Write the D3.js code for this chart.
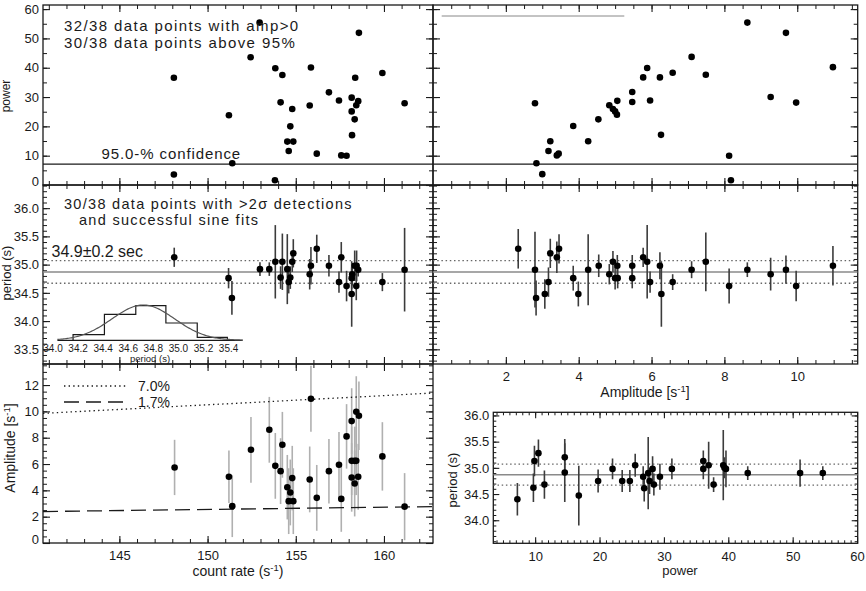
<!DOCTYPE html>
<html>
<head>
<meta charset="utf-8">
<script src="https://cdn.jsdelivr.net/npm/d3@7"></script>
<style>
  body { margin: 0; background: #fff; }
  text { font-family: "Liberation Sans", Arial, sans-serif; fill: #1a1a1a; }
</style>
</head>
<body>
<div id="chart"></div>
<script>
// ---- top-left: power vs count rate
const tlRate = [148.09, 148.09, 151.21, 151.40, 152.44, 152.95, 153.84, 153.82, 154.14, 154.24, 154.52, 154.60, 154.69, 154.80, 154.86, 155.79, 155.86, 156.19, 156.88, 157.45, 157.58, 157.88, 158.17, 158.17, 158.19, 158.34, 158.37, 158.43, 158.54, 158.58, 159.91, 161.17];
const tlPower = [36.6, 3.6, 23.8, 7.4, 43.6, 55.4, 39.8, 1.6, 28.2, 37.5, 14.8, 11.6, 20.0, 25.9, 14.8, 27.1, 40.1, 10.7, 31.6, 28.8, 10.1, 10.0, 29.8, 25.1, 17.0, 22.4, 36.6, 27.2, 28.6, 51.9, 38.2, 27.9];

// ---- top-right: power vs amplitude
const trAmp = [2.80, 2.84, 3.00, 3.17, 3.22, 3.40, 3.45, 3.85, 4.26, 4.54, 4.84, 4.94, 5.00, 5.05, 5.06, 5.47, 5.47, 5.77, 5.88, 5.96, 6.23, 6.26, 6.58, 7.10, 7.49, 8.13, 8.18, 8.63, 9.27, 9.69, 9.97, 10.98];
const trPower = [27.9, 7.4, 3.7, 11.6, 14.9, 10.1, 10.7, 20.1, 14.9, 22.4, 27.2, 25.9, 25.1, 24.0, 28.7, 31.7, 28.3, 36.7, 39.9, 28.8, 36.7, 17.1, 38.3, 43.7, 37.6, 10.0, 1.6, 55.4, 30.0, 51.9, 28.1, 40.2];
const confLevel = 7.1;

// ---- middle-left: period vs count rate
const mlRate = [148.11, 151.19, 151.38, 152.97, 153.50, 153.84, 154.14, 154.24, 154.52, 154.60, 154.69, 154.80, 154.86, 155.79, 155.86, 156.19, 156.88, 157.45, 157.58, 157.88, 158.17, 158.17, 158.20, 158.34, 158.43, 158.45, 158.54, 159.91, 161.17];
const mlPeriod = [35.13, 34.76, 34.41, 34.92, 34.92, 35.05, 34.77, 35.05, 34.92, 34.69, 34.77, 35.05, 35.20, 34.83, 34.98, 35.28, 34.98, 34.69, 35.13, 34.62, 34.76, 34.48, 34.83, 34.98, 34.62, 34.98, 34.91, 34.69, 34.91];
const mlErr = [0.17, 0.18, 0.30, 0.12, 0.12, 0.65, 0.20, 0.50, 0.62, 0.20, 0.20, 0.18, 0.25, 0.27, 0.33, 0.25, 0.19, 0.19, 0.27, 0.27, 0.19, 0.58, 0.20, 0.27, 0.25, 0.27, 0.12, 0.16, 0.74];

// ---- middle-right: period vs amplitude
const mrAmp = [2.34, 2.80, 2.83, 3.07, 3.17, 3.22, 3.40, 3.46, 3.85, 3.99, 4.26, 4.55, 4.84, 4.94, 5.00, 5.06, 5.07, 5.47, 5.47, 5.77, 5.88, 5.96, 6.23, 6.27, 6.58, 7.10, 7.49, 8.13, 8.63, 9.27, 9.69, 9.97, 10.98];
const mrPeriod = [35.28, 34.91, 34.41, 34.48, 34.69, 35.20, 35.13, 35.28, 34.76, 34.48, 34.91, 34.98, 34.83, 35.05, 34.76, 34.98, 34.76, 34.98, 34.76, 35.13, 35.05, 34.69, 34.98, 34.48, 34.69, 34.91, 35.05, 34.62, 34.91, 34.83, 34.91, 34.62, 34.98];
const mrErr = [0.35, 0.67, 0.31, 0.26, 0.26, 0.26, 0.28, 0.26, 0.22, 0.22, 0.63, 0.20, 0.18, 0.19, 0.20, 0.19, 0.18, 0.19, 0.18, 0.17, 0.65, 0.19, 0.24, 0.58, 0.14, 0.15, 0.52, 0.31, 0.13, 0.29, 0.25, 0.27, 0.35];

// mean period and 1-sigma band
const perMean = 34.87, perSig = 0.2;

// ---- inset histogram of periods
const histEdges = [34.16, 34.41, 34.66, 34.90, 35.15, 35.39];
const histCounts = [2, 9, 12, 6, 1];
const gaussPeak = 12.25, gaussMean = 34.72, gaussSigma = 0.25;
const histTicks = [34.0, 34.2, 34.4, 34.6, 34.8, 35.0, 35.2, 35.4];

// ---- bottom-left: amplitude vs count rate
const blRate = [148.13, 151.21, 151.40, 152.46, 153.50, 153.84, 154.14, 154.24, 154.52, 154.60, 154.69, 154.80, 154.86, 155.79, 155.86, 156.19, 156.88, 157.45, 157.58, 157.88, 158.17, 158.17, 158.17, 158.34, 158.34, 158.43, 158.43, 158.54, 158.58, 159.91, 161.17];
const blAmp = [5.74, 5.03, 2.80, 7.08, 8.60, 5.86, 5.46, 7.46, 4.24, 3.18, 3.84, 4.93, 3.18, 4.83, 10.96, 3.43, 5.46, 5.94, 3.35, 8.10, 9.26, 6.24, 4.98, 6.24, 4.52, 6.24, 9.97, 5.03, 9.67, 6.58, 2.76];
const blErr = [2.1, 2.0, 2.35, 2.5, 2.5, 2.5, 2.5, 2.5, 2.45, 2.5, 2.5, 2.45, 2.5, 2.5, 2.5, 2.5, 2.45, 2.5, 2.5, 2.45, 2.5, 2.6, 2.6, 2.6, 2.5, 2.6, 2.7, 2.5, 2.6, 2.6, 2.55];
const fracLevels = [0.07, 0.017];
const fracLabels = ["7.0%", "1.7%"];

// ---- bottom-right: period vs power
const brPower = [7.24, 9.73, 9.89, 10.51, 11.44, 14.60, 14.60, 16.78, 19.78, 22.02, 23.52, 24.71, 25.54, 26.78, 26.94, 27.56, 27.77, 28.24, 28.44, 29.38, 31.24, 36.12, 36.12, 36.95, 37.72, 39.22, 39.40, 39.64, 43.02, 51.15, 54.68];
const brPeriod = [34.40, 34.62, 35.13, 35.28, 34.68, 35.20, 34.91, 34.47, 34.75, 34.98, 34.75, 34.75, 35.05, 34.83, 34.61, 34.90, 34.75, 34.98, 34.68, 34.83, 34.98, 35.13, 34.98, 35.05, 34.68, 35.05, 35.00, 34.98, 34.90, 34.90, 34.90];
const brErr = [0.31, 0.27, 0.29, 0.26, 0.27, 0.35, 0.56, 0.57, 0.22, 0.20, 0.21, 0.21, 0.22, 0.20, 0.25, 0.69, 0.25, 0.24, 0.21, 0.25, 0.20, 0.20, 0.20, 0.45, 0.14, 0.67, 0.20, 0.35, 0.13, 0.26, 0.13];

// tick labels
const rateTicks = [145, 150, 155, 160];
const powTicks = [0, 10, 20, 30, 40, 50, 60];
const ampTicks = [2, 4, 6, 8, 10];
const perTicks = [33.5, 34.0, 34.5, 35.0, 35.5, 36.0];
const ampYTicks = [0, 2, 4, 6, 8, 10, 12];
const brPowTicks = [10, 20, 30, 40, 50, 60];
const brPerTicks = [34.0, 34.5, 35.0, 35.5, 36.0];

const FONT = '"Liberation Sans", Arial, sans-serif';
const INK = "#1a1a1a";

const svg = d3.select("#chart").append("svg")
    .attr("width", 866)
    .attr("height", 591);
const defs = svg.append("defs");

// scales
const xRate = d3.scaleLinear().domain([140.67, 162.78]).range([43, 433]);
const yPow = d3.scaleLinear().domain([0, 61.4]).range([185, 5]);
const xAmp = d3.scaleLinear().domain([0, 11.66]).range([433, 857.7]);
const yPer = d3.scaleLinear().domain([33.24, 36.41]).range([364, 185]);
const yAmp = d3.scaleLinear().domain([0, 13.6]).range([543, 364]);
const xPow = d3.scaleLinear().domain([3.5, 60.1]).range([493.3, 857.7]);
const yPer2 = d3.scaleLinear().domain([33.56, 36.06]).range([543.3, 412.3]);

function inDomain(s, vals) {
    const [a, b] = d3.extent(s.domain());
    return vals.filter(v => v > a + 1e-6 && v < b - 1e-6);
}

// IDL-like panel: inward ticks on all four sides, labels only where asked
function panel(name, x, y, o) {
    const [xa, xb] = x.range(), [ya, yb] = y.range();
    defs.append("clipPath").attr("id", "clip-" + name)
        .append("rect").attr("x", xa).attr("y", yb).attr("width", xb - xa).attr("height", ya - yb);

    const g = svg.append("g");
    const sides = [
        {ax: d3.axisBottom(x), t: `translate(0,${ya})`, maj: o.xt, min: o.xm, lab: o.xLab, fmt: o.xf, pad: o.xPad},
        {ax: d3.axisTop(x), t: `translate(0,${yb})`, maj: o.xt, min: o.xm},
        {ax: d3.axisLeft(y), t: `translate(${xa},0)`, maj: o.yt, min: o.ym, lab: o.yLab, fmt: o.yf, pad: 4},
        {ax: d3.axisRight(y), t: `translate(${xb},0)`, maj: o.yt, min: o.ym}
    ];
    sides.forEach(s => {
        g.append("g").attr("transform", s.t)
            .call(s.ax.tickValues(inDomain(s.ax.scale(), s.min)).tickSize(-o.minor).tickSizeOuter(0).tickFormat(""))
            .call(a => a.select(".domain").remove())
            .selectAll("line").attr("stroke", INK).attr("stroke-width", 1);
        const ga = g.append("g").attr("transform", s.t)
            .call(s.ax.tickValues(s.maj).tickSize(-o.major).tickPadding(s.pad || 3).tickFormat(s.lab ? s.fmt : ""))
            .call(a => a.select(".domain").remove())
            .attr("font-size", 13).attr("font-family", FONT);
        ga.selectAll("line").attr("stroke", INK).attr("stroke-width", 1.1);
        ga.selectAll("text").attr("fill", INK);
        // IDL nudges the lowest label (0) up a little
        ga.selectAll(".tick text").filter(d => d === 0 && s.lab && s.pad === 4).attr("dy", "0.02em");
    });
    g.append("rect")
        .attr("x", xa).attr("y", yb).attr("width", xb - xa).attr("height", ya - yb)
        .attr("fill", "none").attr("stroke", INK).attr("stroke-width", 1.3);

    return svg.append("g").attr("clip-path", `url(#clip-${name})`);
}

function dots(g, xs, ys, x, y) {
    g.selectAll(null).data(xs).join("circle")
        .attr("cx", d => x(d))
        .attr("cy", (d, i) => y(ys[i]))
        .attr("r", 3.3)
        .attr("fill", "#000");
}

function errBars(g, xs, ys, es, x, y, color) {
    g.selectAll(null).data(xs).join("line")
        .attr("x1", d => x(d)).attr("x2", d => x(d))
        .attr("y1", (d, i) => y(ys[i] - es[i]))
        .attr("y2", (d, i) => y(ys[i] + es[i]))
        .attr("stroke", color)
        .attr("stroke-width", 1.6);
}

function hLine(g, x, y, v, color, dash, w) {
    g.append("line")
        .attr("x1", x.range()[0]).attr("x2", x.range()[1])
        .attr("y1", y(v)).attr("y2", y(v))
        .attr("stroke", color)
        .attr("stroke-width", w || 1.3)
        .attr("stroke-dasharray", dash || null);
}

function label(txt, x, y, size, opts) {
    const t = svg.append("text")
        .attr("x", x).attr("y", y)
        .attr("font-size", size)
        .text(txt);
    if (opts && opts.spacing) t.attr("letter-spacing", opts.spacing);
    if (opts && opts.anchor) t.attr("text-anchor", opts.anchor);
    return t;
}

// label with s^-1 superscript
function unitLabel(pre, post, x, y, size, rotate) {
    const t = svg.append("text")
        .attr("font-size", size)
        .attr("text-anchor", "middle");
    if (rotate) t.attr("transform", `translate(${x},${y}) rotate(-90)`);
    else t.attr("x", x).attr("y", y);
    t.append("tspan").text(pre);
    t.append("tspan").attr("dy", -5).attr("font-size", size * 0.68).text("-1");
    t.append("tspan").attr("dy", 5).text(post);
}

function rotLabel(txt, x, y, size) {
    svg.append("text")
        .attr("transform", `translate(${x},${y}) rotate(-90)`)
        .attr("text-anchor", "middle")
        .attr("font-size", size)
        .text(txt);
}

// ================= top-left
const gTL = panel("tl", xRate, yPow, {
    xt: rateTicks, xm: d3.range(141, 163, 1),
    yt: powTicks, ym: d3.range(5, 61, 5), yLab: true, yf: d3.format("d"),
    major: 7, minor: 4
});
hLine(gTL, xRate, yPow, confLevel, INK, null, 1.3);
dots(gTL, tlRate, tlPower, xRate, yPow);
label("32/38 data points with amp>0", 64, 30.5, 15, {spacing: 1.4});
label("30/38 data points above 95%", 64, 47.5, 15, {spacing: 1.4});
label("95.0-% confidence", 101.5, 159.3, 15, {spacing: 0.9});
rotLabel("power", 10, 96, 12);

// ================= top-right
const gTR = panel("tr", xAmp, yPow, {
    xt: ampTicks, xm: d3.range(0.5, 11.6, 0.5),
    yt: powTicks, ym: d3.range(5, 61, 5),
    major: 7, minor: 4
});
gTR.append("line")
    .attr("x1", 441.7).attr("x2", 624.3).attr("y1", 16).attr("y2", 16)
    .attr("stroke", "#888").attr("stroke-width", 1);
hLine(gTR, xAmp, yPow, confLevel, INK, null, 1.3);
dots(gTR, trAmp, trPower, xAmp, yPow);

// ================= middle-left
const gML = panel("ml", xRate, yPer, {
    xt: rateTicks, xm: d3.range(141, 163, 1),
    yt: perTicks, ym: d3.range(33.3, 36.41, 0.1), yLab: true, yf: d3.format(".1f"),
    major: 7, minor: 4
});
hLine(gML, xRate, yPer, perMean, "#8a8a8a", null, 1.5);
hLine(gML, xRate, yPer, perMean + perSig, "#666", "1.5,2.7", 1.3);
hLine(gML, xRate, yPer, perMean - perSig, "#666", "1.5,2.7", 1.3);
errBars(gML, mlRate, mlPeriod, mlErr, xRate, yPer, "#3c3c3c");
dots(gML, mlRate, mlPeriod, xRate, yPer);
label("30/38 data points with >2σ detections", 64, 208.5, 14.5, {spacing: 1.3});
label("and successful sine fits", 79, 225, 14.5, {spacing: 1.3});
label("34.9±0.2 sec", 51.5, 256.5, 16);
rotLabel("period (s)", 11, 273, 13);

// inset histogram
const hx = d3.scaleLinear().domain([34.0, 35.4]).range([53, 228.6]);
const hy = d3.scaleLinear().domain([0, 12]).range([340.3, 305.7]);
const stepPts = [[histEdges[0], 0]];
histCounts.forEach((c, i) => {
    stepPts.push([histEdges[i], c], [histEdges[i + 1], c]);
});
stepPts.push([histEdges[histEdges.length - 1], 0]);
const hLineGen = d3.line().x(d => hx(d[0])).y(d => hy(d[1]));
svg.append("line")
    .attr("x1", hx(34.035)).attr("x2", hx(35.51))
    .attr("y1", hy(0)).attr("y2", hy(0))
    .attr("stroke", INK).attr("stroke-width", 1.3);
svg.append("path")
    .attr("d", hLineGen(stepPts))
    .attr("fill", "none").attr("stroke", INK).attr("stroke-width", 1.2);
const gaussPts = d3.range(34.035, 35.515, 0.01)
    .map(p => [p, gaussPeak * Math.exp(-0.5 * ((p - gaussMean) / gaussSigma) ** 2)]);
svg.append("path")
    .attr("d", hLineGen(gaussPts))
    .attr("fill", "none").attr("stroke", "#555").attr("stroke-width", 1.2);
svg.append("g")
    .selectAll("text").data(histTicks).join("text")
    .attr("x", d => hx(d)).attr("y", 351.5)
    .attr("text-anchor", "middle").attr("font-size", 10)
    .text(d => d.toFixed(1));
label("period (s)", 150, 361.5, 9.5, {anchor: "middle"});

// ================= middle-right
const gMR = panel("mr", xAmp, yPer, {
    xt: ampTicks, xm: d3.range(0.5, 11.6, 0.5), xLab: true, xf: d3.format("d"), xPad: 8,
    yt: perTicks, ym: d3.range(33.3, 36.41, 0.1),
    major: 7, minor: 4
});
hLine(gMR, xAmp, yPer, perMean, "#8a8a8a", null, 1.5);
hLine(gMR, xAmp, yPer, perMean + perSig, "#666", "1.5,2.7", 1.3);
hLine(gMR, xAmp, yPer, perMean - perSig, "#666", "1.5,2.7", 1.3);
errBars(gMR, mrAmp, mrPeriod, mrErr, xAmp, yPer, "#3c3c3c");
dots(gMR, mrAmp, mrPeriod, xAmp, yPer);
unitLabel("Amplitude [s", "]", 645, 397, 14, false);

// ================= bottom-left
const gBL = panel("bl", xRate, yAmp, {
    xt: rateTicks, xm: d3.range(141, 163, 1), xLab: true, xf: d3.format("d"), xPad: 8,
    yt: ampYTicks, ym: d3.range(0.5, 13.6, 0.5), yLab: true, yf: d3.format("d"),
    major: 7, minor: 4
});
errBars(gBL, blRate, blAmp, blErr, xRate, yAmp, "#b0b0b0");
const rateDom = xRate.domain();
const fracDash = ["1.4,3.2", "15,7"];
fracLevels.forEach((f, i) => {
    gBL.append("line")
        .attr("x1", xRate(rateDom[0])).attr("x2", xRate(rateDom[1]))
        .attr("y1", yAmp(f * rateDom[0])).attr("y2", yAmp(f * rateDom[1]))
        .attr("stroke", INK).attr("stroke-width", 1.3)
        .attr("stroke-dasharray", fracDash[i]);
});
dots(gBL, blRate, blAmp, xRate, yAmp);
// legend
fracLabels.forEach((t, i) => {
    const ly = 386 + i * 16;
    svg.append("line")
        .attr("x1", 64).attr("x2", 127).attr("y1", ly).attr("y2", ly)
        .attr("stroke", INK).attr("stroke-width", 1.3)
        .attr("stroke-dasharray", fracDash[i]);
    label(t, 138, ly + 5, 14);
});
unitLabel("count rate (s", ")", 238, 576, 14, false);
unitLabel("Amplitude [s", "]", 15, 448, 14, true);

// ================= bottom-right
const gBR = panel("br", xPow, yPer2, {
    xt: brPowTicks, xm: d3.range(4, 60, 1), xLab: true, xf: d3.format("d"), xPad: 8,
    yt: brPerTicks, ym: d3.range(33.6, 36.06, 0.1), yLab: true, yf: d3.format(".1f"),
    major: 6, minor: 3
});
hLine(gBR, xPow, yPer2, perMean, "#8a8a8a", null, 1.5);
hLine(gBR, xPow, yPer2, perMean + perSig, "#666", "1.5,2.7", 1.3);
hLine(gBR, xPow, yPer2, perMean - perSig, "#666", "1.5,2.7", 1.3);
errBars(gBR, brPower, brPeriod, brErr, xPow, yPer2, "#3c3c3c");
dots(gBR, brPower, brPeriod, xPow, yPer2);
rotLabel("period (s)", 457, 480, 13);
label("power", 680, 575, 13, {anchor: "middle"});
</script>
</body>
</html>
